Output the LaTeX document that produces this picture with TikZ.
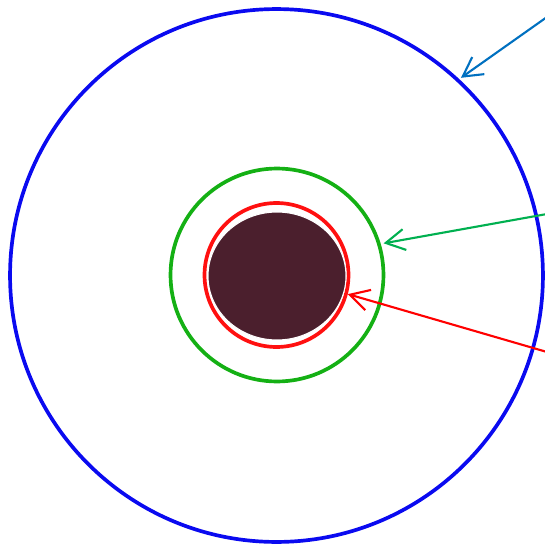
\documentclass[tikz,border=0pt]{standalone}
\usetikzlibrary{arrows.meta, shapes.geometric}
\definecolor{ringblue}{HTML}{0A0AF0}
\definecolor{ringgreen}{HTML}{14B014}
\definecolor{ringred}{HTML}{FF1010}
\definecolor{corebrown}{HTML}{4B1F2D}
\definecolor{ptrblue}{HTML}{0070C0}
\definecolor{ptrgreen}{HTML}{00B050}
\definecolor{ptrred}{HTML}{FF0000}

\begin{document}
\begin{tikzpicture}[
  x=0.02cm, y=-0.02cm,
  >={Straight Barb[length=0.38cm, width=0.42cm]},
  ring/.style={
    circle, draw=#1, line width=2.1pt, inner sep=0pt
  },
  ptr/.style={->, line width=1.2pt, #1},
]

% Canvas
\useasboundingbox (0,0) rectangle (545,545);

% ===== Rings =====
\node[ring=ringblue, minimum size=10.66cm] (outer) at (276.5,275.5) {};
\node[ring=ringgreen, minimum size=4.26cm] (middle) at (277,275) {};
\node[ring=ringred, minimum size=2.88cm] (inner) at (276.5,275) {};

% Core
\node[ellipse, fill=corebrown, draw=white, line width=0.6pt, inner sep=0pt,
      minimum width=2.76cm, minimum height=2.56cm] (core) at (277,276) {};

% ===== Pointers =====
\coordinate (tailblue) at (547,17);
\coordinate (tailgreen) at (547,214);
\coordinate (tailred) at (547,352);

\draw[ptr=ptrblue] (tailblue) -- ([shift={(1.5,-1.5)}]outer.47);
\draw[ptr=ptrgreen] (tailgreen) -- ([shift={(3,0)}]middle.17);
\draw[ptr=ptrred] (tailred) -- (inner.-15);

\end{tikzpicture}
\end{document}
